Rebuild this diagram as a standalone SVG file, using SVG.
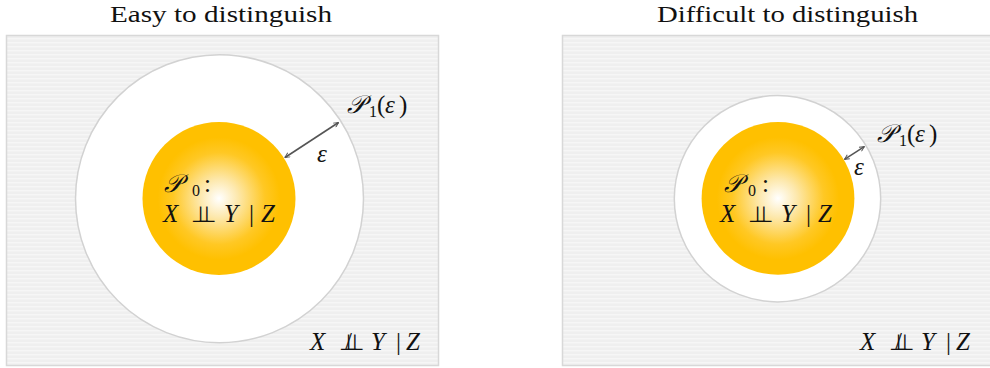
<svg xmlns="http://www.w3.org/2000/svg" width="990" height="368" viewBox="0 0 990 368">
<defs>
  <pattern id="stripes" x="0" y="0" width="8" height="4" patternUnits="userSpaceOnUse">
    <rect width="8" height="4" fill="#efefef"/>
    <rect y="2" width="8" height="1.5" fill="#f6f6f6"/>
  </pattern>
  <radialGradient id="gold" cx="0.5" cy="0.5" r="0.5">
    <stop offset="0" stop-color="#ffffff"/>
    <stop offset="0.25" stop-color="#fde8ac"/>
    <stop offset="0.6" stop-color="#ffc824"/>
    <stop offset="0.8" stop-color="#ffc000"/>
    <stop offset="1" stop-color="#ffc000"/>
  </radialGradient>
  <marker id="ah" viewBox="0 0 10 10" refX="9" refY="5" markerWidth="6" markerHeight="6" orient="auto-start-reverse" markerUnits="userSpaceOnUse">
    <path d="M1,1 L9,5 L1,9" fill="none" stroke="#555" stroke-width="1.6"/>
  </marker>
</defs>
<style>
  .panel { fill: url(#stripes); stroke: #d8d8d8; stroke-width: 1.5; }
  .outer { fill: #ffffff; stroke: #d2d2d2; stroke-width: 1.5; }
  .inner { fill: url(#gold); stroke: none; }
  .title { font-family: "Liberation Serif", "DejaVu Serif", serif; font-size: 24px; fill: #111; }
  .m { font-family: "Liberation Serif", "DejaVu Serif", serif; font-size: 25px; fill: #111; font-style: italic; }
  .r { font-style: normal; }
  .sub { font-size: 16px; font-style: normal; }
  .sym { font-family: "DejaVu Sans", sans-serif; font-style: normal; font-size: 22px; letter-spacing: -13px; }
  .sl { font-style: normal; font-size: 25px; }
  .arrow { stroke: #555; stroke-width: 1.6; fill: none; marker-start: url(#ah); marker-end: url(#ah); }
</style>

<g id="title-left"><text class="title" x="110" y="22" textLength="222" lengthAdjust="spacingAndGlyphs">Easy to distinguish</text></g>
<g id="title-right"><text class="title" x="657" y="22" textLength="261" lengthAdjust="spacingAndGlyphs">Difficult to distinguish</text></g>

<g id="panel-left">
  <rect class="panel" x="6.5" y="35.5" width="432" height="330"/>
  <text class="m" x="310" y="350">X<tspan class="sym" x="339">⊥⊥</tspan><tspan class="sl" x="345">/</tspan><tspan x="371">Y</tspan><tspan class="r" x="396">|</tspan><tspan x="406">Z</tspan></text>
</g>
<g id="panel-right">
  <rect class="panel" x="562.5" y="35.5" width="430" height="330"/>
  <text class="m" x="860" y="350">X<tspan class="sym" x="889">⊥⊥</tspan><tspan class="sl" x="895">/</tspan><tspan x="921">Y</tspan><tspan class="r" x="946">|</tspan><tspan x="956">Z</tspan></text>
</g>

<g id="p1-left">
  <circle class="outer" cx="219.5" cy="198.7" r="144"/>
  <text class="m" x="347" y="113">𝒫<tspan class="sub" x="369" dy="4">1</tspan><tspan class="r" x="377" dy="-4">(</tspan><tspan x="385">ε</tspan><tspan class="r" x="399">)</tspan></text>
</g>
<g id="p0-left">
  <circle class="inner" cx="219" cy="198.5" r="76.5"/>
  <text class="m" x="164" y="192">𝒫<tspan class="sub" x="192" dy="4">0</tspan><tspan class="r" dy="-4" x="204">:</tspan></text>
  <text class="m" x="163" y="222">X<tspan class="sym" x="191">⊥⊥</tspan><tspan x="224">Y</tspan><tspan class="r" x="249">|</tspan><tspan x="261">Z</tspan></text>
</g>

<g id="p1-right">
  <circle class="outer" cx="777.5" cy="198.7" r="103.2"/>
  <text class="m" x="877" y="142">𝒫<tspan class="sub" x="899" dy="4">1</tspan><tspan class="r" x="907" dy="-4">(</tspan><tspan x="915">ε</tspan><tspan class="r" x="929">)</tspan></text>
</g>
<g id="p0-right">
  <circle class="inner" cx="778" cy="198.4" r="76.4"/>
  <text class="m" x="724" y="192">𝒫<tspan class="sub" x="748" dy="4">0</tspan><tspan class="r" dy="-4" x="762">:</tspan></text>
  <text class="m" x="720" y="222">X<tspan class="sym" x="748">⊥⊥</tspan><tspan x="781">Y</tspan><tspan class="r" x="806">|</tspan><tspan x="818">Z</tspan></text>
</g>

<g id="connectors">
  <line class="arrow" x1="285" y1="157.5" x2="338.5" y2="122.5"/>
  <text class="m" x="317" y="162">ε</text>
  <line class="arrow" x1="844.5" y1="159.3" x2="864.3" y2="146.7"/>
  <text class="m" x="854" y="175">ε</text>
</g>
</svg>
